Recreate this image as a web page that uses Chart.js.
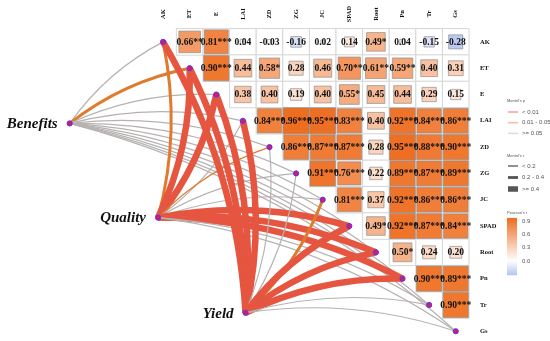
<!DOCTYPE html>
<html>
<head>
<meta charset="utf-8">
<script src="https://cdn.jsdelivr.net/npm/chart.js@4.4.0/dist/chart.umd.min.js"></script>
<style>
    html, body { margin: 0; padding: 0; background: #fff; }
    #wrap { width: 550px; height: 341px; }
</style>
</head>
<body>
<div id="wrap"><canvas id="mantelChart" width="550" height="341"></canvas></div>
<script>
const variables = ['AK', 'ET', 'E', 'LAI', 'ZD', 'ZG', 'JC', 'SPAD', 'Root', 'Pn', 'Tr', 'Gs'];

// Pearson's r, upper triangle: row i holds pairs (i, i+1) .. (i, 11)
const pearsonR = [
    [0.66, 0.81, 0.04, -0.03, -0.16, 0.02, 0.14, 0.49, 0.04, -0.15, -0.28],
    [0.90, 0.44, 0.58, 0.28, 0.46, 0.70, 0.61, 0.59, 0.40, 0.31],
    [0.38, 0.40, 0.19, 0.40, 0.55, 0.45, 0.44, 0.29, 0.15],
    [0.84, 0.96, 0.95, 0.83, 0.40, 0.92, 0.84, 0.86],
    [0.86, 0.87, 0.87, 0.28, 0.95, 0.88, 0.90],
    [0.91, 0.76, 0.22, 0.89, 0.87, 0.89],
    [0.81, 0.37, 0.92, 0.86, 0.86],
    [0.49, 0.92, 0.87, 0.84],
    [0.50, 0.24, 0.20],
    [0.90, 0.89],
    [0.90]
];
const pearsonStars = [
    ['**', '***', '', '', '', '', '', '*', '', '', ''],
    ['***', '', '*', '', '', '**', '**', '**', '', ''],
    ['', '', '', '', '*', '', '', '', ''],
    ['***', '***', '***', '***', '', '***', '***', '***'],
    ['***', '***', '***', '', '***', '***', '***'],
    ['***', '***', '', '***', '***', '***'],
    ['***', '', '***', '***', '***'],
    ['*', '***', '***', '***'],
    ['*', '', ''],
    ['***', '***'],
    ['***']
];

const groups = ['Benefits', 'Quality', 'Yield'];
// Mantel's r / p of each group against the variables (estimated from width / colour)
const mantelR = [
    [0.10, 0.30, 0.10, 0.10, 0.10, 0.10, 0.10, 0.10, 0.10, 0.10, 0.10, 0.10],
    [0.30, 0.45, 0.45, 0.10, 0.15, 0.10, 0.10, 0.45, 0.45, 0.45, 0.10, 0.10],
    [0.45, 0.45, 0.45, 0.45, 0.10, 0.10, 0.30, 0.45, 0.45, 0.45, 0.10, 0.10]
];
const mantelP = [
    [0.20, 0.03, 0.20, 0.20, 0.20, 0.20, 0.20, 0.20, 0.20, 0.20, 0.20, 0.20],
    [0.03, 0.005, 0.005, 0.20, 0.03, 0.20, 0.20, 0.005, 0.005, 0.005, 0.20, 0.20],
    [0.005, 0.005, 0.005, 0.005, 0.20, 0.20, 0.03, 0.005, 0.005, 0.005, 0.20, 0.20]
];

const pLegend = ['< 0.01', '0.01 - 0.05', '>= 0.05'];
const rLegend = ['< 0.2', '0.2 - 0.4', '>= 0.4'];
const colorbarTicks = [0.9, 0.6, 0.3, 0.0];

// layout (data units: one unit = one heatmap cell)
const groupAnchors = [{ x: -3.51, y: 3.10 }, { x: -0.19, y: 6.68 }, { x: 3.10, y: 10.30 }];
const CELL = 27.1;
const xMin = -161 / CELL, yMin = -38 / CELL;

const pColors = ['#E5553F', '#E07A2C', '#B7B2B2'];
const pLegendColors = ['#F2A096', '#F1C09A', '#DADADA'];
const rWidths = [1.2, 3, 6.5];
const serif = '"Liberation Serif", "Times New Roman", serif';
const sans = '"Liberation Sans", Arial, sans-serif';

function pClass(p) { return p < 0.01 ? 0 : (p < 0.05 ? 1 : 2); }
function rClass(r) { return r < 0.2 ? 0 : (r < 0.4 ? 1 : 2); }

function pearsonColor(r) {
    const hi = [238, 108, 30], lo = [178, 194, 240];
    const t = r >= 0 ? Math.min(r / 0.97, 1) : Math.min(-r / 0.32, 1);
    const c = r >= 0 ? hi : lo;
    const mix = c.map(v => Math.round(255 + (v - 255) * t));
    return `rgb(${mix[0]}, ${mix[1]}, ${mix[2]})`;
}

function cellPx(chart) {
    const x = chart.scales.x;
    return x.getPixelForValue(1) - x.getPixelForValue(0);
}

const cellPoints = [];
pearsonR.forEach((row, i) => {
    row.forEach((r, k) => {
        cellPoints.push({ x: i + 1 + k, y: i, v: r, label: r.toFixed(2) + pearsonStars[i][k] });
    });
});

const nodePoints = variables.map((name, i) => ({ x: i, y: i }))
    .concat(groupAnchors.map(a => ({ x: a.x, y: a.y })));

// Mantel curves, drawn under everything else
const curvePlugin = {
    id: 'mantelCurves',
    beforeDatasetsDraw(chart) {
        const { ctx, scales: { x, y } } = chart;
        ctx.save();
        groups.forEach((g, gi) => {
            const x0 = x.getPixelForValue(groupAnchors[gi].x);
            const y0 = y.getPixelForValue(groupAnchors[gi].y);
            variables.forEach((v, i) => {
                const x1 = x.getPixelForValue(i), y1 = y.getPixelForValue(i);
                const dx = x1 - x0, dy = y1 - y0;
                const len = Math.hypot(dx, dy);
                let nx = -dy / len, ny = dx / len;
                if (nx - ny < 0) { nx = -nx; ny = -ny; }
                const cx = (x0 + x1) / 2 + nx * len * 0.12;
                const cy = (y0 + y1) / 2 + ny * len * 0.12;
                ctx.beginPath();
                ctx.moveTo(x0, y0);
                ctx.quadraticCurveTo(cx, cy, x1, y1);
                ctx.strokeStyle = pColors[pClass(mantelP[gi][i])];
                ctx.lineWidth = rWidths[rClass(mantelR[gi][i])];
                ctx.stroke();
            });
        });
        ctx.restore();
    }
};

// texts and legends
const labelPlugin = {
    id: 'labels',
    afterDatasetsDraw(chart) {
        const { ctx, scales: { x, y } } = chart;
        ctx.save();
        ctx.fillStyle = '#111';
        ctx.textAlign = 'center';
        ctx.textBaseline = 'middle';
        ctx.font = `bold 9.5px ${serif}`;
        cellPoints.forEach(c => {
            ctx.fillText(c.label, x.getPixelForValue(c.x), y.getPixelForValue(c.y) + 0.5);
        });

        ctx.font = `bold 6.5px ${serif}`;
        variables.forEach((v, i) => {
            ctx.save();
            ctx.translate(x.getPixelForValue(i), 14);
            ctx.rotate(-Math.PI / 2);
            ctx.fillText(v, 0, 0);
            ctx.restore();
        });
        ctx.textAlign = 'left';
        variables.forEach((v, i) => {
            ctx.fillText(v, 480, y.getPixelForValue(i));
        });

        ctx.textAlign = 'right';
        ctx.font = `italic bold 15px ${serif}`;
        groups.forEach((g, gi) => {
            ctx.fillText(g, x.getPixelForValue(groupAnchors[gi].x) - 12, y.getPixelForValue(groupAnchors[gi].y) + 1);
        });

        // Mantel's p legend
        ctx.textAlign = 'left';
        ctx.fillStyle = '#555';
        ctx.font = `4px ${sans}`;
        ctx.fillText("Mantel's p", 507, 101);
        ctx.font = `6px ${sans}`;
        pLegend.forEach((t, k) => {
            const ly = 112 + k * 10.7;
            ctx.strokeStyle = pLegendColors[k];
            ctx.lineWidth = 1.5;
            ctx.beginPath();
            ctx.moveTo(508, ly);
            ctx.lineTo(518, ly);
            ctx.stroke();
            ctx.fillText(t, 522, ly);
        });

        // Mantel's r legend
        ctx.font = `4px ${sans}`;
        ctx.fillText("Mantel's r", 507, 156);
        ctx.font = `6px ${sans}`;
        rLegend.forEach((t, k) => {
            const ly = 166 + k * 11.5;
            ctx.strokeStyle = '#555';
            ctx.lineWidth = [1.3, 2.8, 5.5][k];
            ctx.beginPath();
            ctx.moveTo(508, ly);
            ctx.lineTo(518, ly);
            ctx.stroke();
            ctx.fillText(t, 522, ly);
        });

        // Pearson's r colour bar
        ctx.font = `4px ${sans}`;
        ctx.fillText("Pearson's r", 507, 213);
        const zeroY = 261, perUnit = 44.4;
        const top = zeroY - 0.97 * perUnit, bottom = zeroY + 0.32 * perUnit;
        const grad = ctx.createLinearGradient(0, top, 0, bottom);
        for (let s = 0; s <= 20; s++) {
            const v = 0.97 - (s / 20) * 1.29;
            grad.addColorStop(s / 20, pearsonColor(v));
        }
        ctx.fillStyle = grad;
        ctx.fillRect(507, top, 10, bottom - top);
        ctx.fillStyle = '#555';
        ctx.font = `6px ${sans}`;
        colorbarTicks.forEach(t => {
            ctx.fillText(t.toFixed(1), 522, zeroY - t * perUnit);
        });
        ctx.restore();
    }
};

new Chart(document.getElementById('mantelChart'), {
    type: 'scatter',
    data: {
        datasets: [
            {
                label: 'nodes',
                data: nodePoints,
                order: 1,
                pointRadius: 2.6,
                pointBackgroundColor: '#D81B60',
                pointBorderColor: '#4A3AFF',
                pointBorderWidth: 1
            },
            {
                label: 'squares',
                data: cellPoints,
                order: 2,
                pointStyle: 'rect',
                pointRadius: c => cellPx(c.chart) * Math.sqrt(Math.abs(c.raw.v)) / Math.SQRT2,
                pointBackgroundColor: c => pearsonColor(c.raw.v),
                pointBorderColor: 'rgba(140, 140, 140, 0.85)',
                pointBorderWidth: 0.8
            },
            {
                label: 'cells',
                data: cellPoints,
                order: 3,
                pointStyle: 'rect',
                pointRadius: c => cellPx(c.chart) / Math.SQRT2,
                pointBackgroundColor: '#fff',
                pointBorderColor: '#D6D6D6',
                pointBorderWidth: 1
            }
        ]
    },
    options: {
        responsive: false,
        animation: false,
        devicePixelRatio: 1,
        events: [],
        layout: { padding: 0 },
        plugins: {
            legend: { display: false },
            tooltip: { enabled: false }
        },
        scales: {
            x: { type: 'linear', display: false, bounds: 'data', min: xMin, max: xMin + 550 / CELL },
            y: { type: 'linear', display: false, bounds: 'data', reverse: true, min: yMin, max: yMin + 341 / CELL }
        }
    },
    plugins: [curvePlugin, labelPlugin]
});
</script>
</body>
</html>
